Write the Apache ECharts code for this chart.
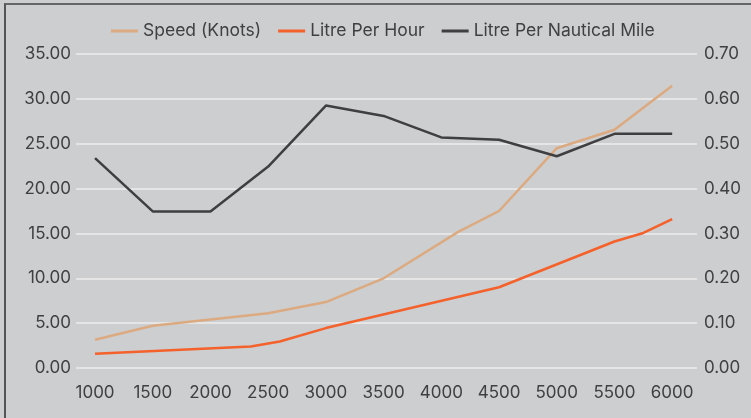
<!DOCTYPE html>
<html>
<head>
<meta charset="utf-8">
<script src="https://cdn.jsdelivr.net/npm/echarts@6/dist/echarts.min.js"></script>
<style>
  html, body { margin: 0; padding: 0; background: #cdced0; }
  #frame { position: absolute; left: 4px; top: 3px; width: 800px; height: 450px;
           border-left: 2px solid #555; border-top: 2px solid #666; }
  #chart { position: absolute; left: 0; top: 0; width: 751px; height: 418px; }
</style>
</head>
<body>
<div id="frame"></div>
<div id="chart"></div>
<script>
// rpm ticks shown under the chart
var rpmTicks = [1000, 1500, 2000, 2500, 3000, 3500, 4000, 4500, 5000, 5500, 6000];

// speed in knots, [rpm, value]
var speedKnots = [
    [1000, 3.15], [1500, 4.7], [2500, 6.1], [3000, 7.35], [3500, 10.0],
    [4150, 15.2], [4500, 17.5], [5000, 24.5], [5500, 26.55], [6000, 31.45]
];
// litre per hour, [rpm, value]
var litrePerHour = [
    [1000, 1.6], [2350, 2.4], [2600, 2.95], [3000, 4.45], [4500, 9.0],
    [5500, 14.1], [5750, 15.05], [6000, 16.6]
];
// litre per nautical mile (right axis), [rpm, value]
var litrePerNm = [
    [1000, 0.468], [1500, 0.349], [2000, 0.349], [2500, 0.449], [3000, 0.585],
    [3500, 0.562], [4000, 0.514], [4500, 0.509], [5000, 0.472], [5500, 0.522],
    [6000, 0.522]
];

var seriesNames = ['Speed (Knots)', 'Litre Per Hour', 'Litre Per Nautical Mile'];
var seriesColors = ['#dcaa80', '#f4612a', '#3f3f41'];

var txt = '#404042';
var font = 'Inter';

var myChart = echarts.init(document.getElementById('chart'));

var option = {
    backgroundColor: 'transparent',
    textStyle: { fontFamily: font },
    legend: {
        top: 17,
        left: 106,
        itemWidth: 27,
        itemHeight: 3,
        itemGap: 17,
        icon: 'rect',
        textStyle: { color: txt, fontSize: 17.5, fontFamily: font },
        data: seriesNames
    },
    grid: {
        left: 76,
        right: 54,
        top: 54,
        bottom: 50
    },
    xAxis: {
        type: 'value',
        min: 835,
        max: 6215,
        axisLine: { show: false },
        axisTick: { show: false },
        splitLine: { show: false },
        axisLabel: {
            customValues: rpmTicks,
            color: txt,
            fontSize: 17,
            margin: 16,
            formatter: function (v) { return String(v); }
        }
    },
    yAxis: [
        {
            type: 'value',
            min: 0,
            max: 35,
            interval: 5,
            axisLine: { show: false },
            axisTick: { show: false },
            splitLine: { lineStyle: { color: '#ececee', width: 1.5 } },
            axisLabel: {
                color: txt,
                fontSize: 17,
                margin: 5,
                formatter: function (v) { return v.toFixed(2); }
            }
        },
        {
            type: 'value',
            min: 0,
            max: 0.7,
            interval: 0.1,
            axisLine: { show: false },
            axisTick: { show: false },
            splitLine: { show: false },
            axisLabel: {
                color: txt,
                fontSize: 17,
                margin: 7,
                formatter: function (v) { return v.toFixed(2); }
            }
        }
    ],
    series: [
        {
            name: seriesNames[0],
            type: 'line',
            yAxisIndex: 0,
            showSymbol: false,
            color: seriesColors[0],
            lineStyle: { width: 2.5 },
            data: speedKnots
        },
        {
            name: seriesNames[1],
            type: 'line',
            yAxisIndex: 0,
            showSymbol: false,
            color: seriesColors[1],
            lineStyle: { width: 2.5 },
            data: litrePerHour
        },
        {
            name: seriesNames[2],
            type: 'line',
            yAxisIndex: 1,
            showSymbol: false,
            color: seriesColors[2],
            lineStyle: { width: 2.5 },
            data: litrePerNm
        }
    ]
};

myChart.setOption(option);
</script>
</body>
</html>
